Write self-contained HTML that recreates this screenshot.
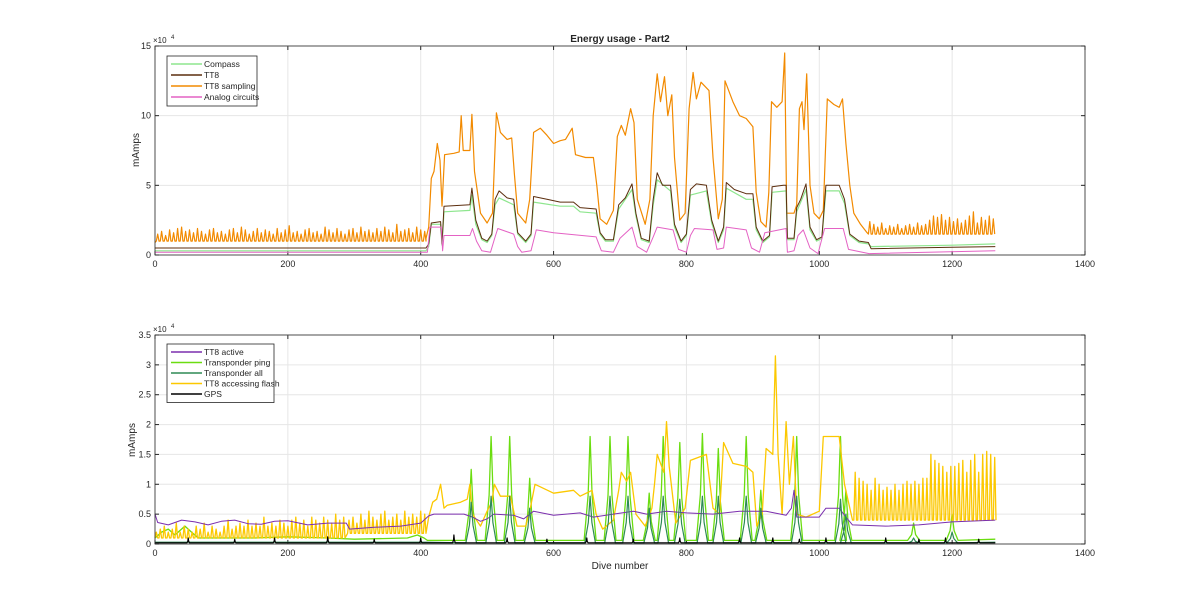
<!DOCTYPE html>
<html><head><meta charset="utf-8"><style>
body{margin:0;background:#fff;font-family:"Liberation Sans",sans-serif}
svg text{font-family:"Liberation Sans",sans-serif;fill:#262626}
</style></head><body>
<svg id="c" width="1200" height="611" viewBox="0 0 1200 611">
<text x="620" y="42" font-size="10" font-weight="bold" text-anchor="middle">Energy usage - Part2</text>
<text x="0" y="0" font-size="10" text-anchor="middle" transform="translate(139,150) rotate(-90)">mAmps</text>
<text x="0" y="0" font-size="10" text-anchor="middle" transform="translate(135,440) rotate(-90)">mAmps</text>
<text x="620" y="569" font-size="10" text-anchor="middle">Dive number</text>
<g id="topAxes"></g>
<g id="botAxes"></g>
</svg>
<script>
const xTicks=[0,200,400,600,800,1000,1200,1400];
const topYTicks=[0,5,10,15];
const botYTicks=[0,0.5,1,1.5,2,2.5,3,3.5];
const topSeriesNames=["Compass","TT8","TT8 sampling","Analog circuits"];
const botSeriesNames=["TT8 active","Transponder ping","Transponder all","TT8 accessing flash","GPS"];
const samplingEarlyBase=1.0;
const samplingEarlySpikes=[1.5,1.7,1.4,1.8,1.6,1.9,2.0,1.7,1.8,1.6,1.9,1.7,1.5,1.8,1.9,1.6,1.7,1.5,1.8,1.9,1.6,2.0,1.8,1.5,1.7,1.9,1.6,1.8,1.7,1.5,1.9,1.6,1.8,2.1,1.6,1.7,1.5,1.8,1.9,1.6,1.7,1.5,2.0,1.8,1.6,1.9,1.7,1.5,1.8,1.9,1.6,2.0,1.7,1.8,1.6,1.9,1.7,2.0,1.8,1.6,2.2,1.7,1.8,1.9,1.6,2.0,1.8,1.7];
const samplingMid=[[408,1.2],[412,2.0],[416,5.5],[420,6.0],[425,8.0],[429,6.8],[432,3.5],[436,7.2],[450,7.3],[458,7.4],[461,10.0],[464,7.5],[474,7.5],[477,10.1],[481,6.0],[490,3.0],[500,2.3],[508,3.0],[514,10.2],[520,8.8],[530,8.3],[537,8.4],[541,5.8],[546,3.0],[558,2.3],[564,4.0],[570,8.8],[580,9.1],[590,8.6],[600,8.0],[610,8.2],[618,8.3],[628,9.1],[633,7.2],[648,7.0],[660,7.0],[665,5.0],[670,2.6],[680,2.2],[690,3.2],[696,8.5],[702,9.3],[708,8.6],[716,10.5],[721,9.5],[726,4.0],[738,2.2],[745,4.0],[750,10.0],[756,13.0],[761,11.0],[767,12.8],[772,10.0],[778,11.5],[782,7.0],[790,2.5],[798,3.0],[804,10.5],[810,13.1],[815,11.2],[822,12.4],[834,11.8],[840,7.0],[848,2.6],[854,4.0],[858,12.5],[870,11.0],[880,10.0],[890,9.8],[900,9.2],[905,4.5],[912,2.4],[920,2.0],[924,4.5],[928,11.0],[936,10.6],[944,11.0],[948,14.5],[951,3.0],[962,3.0],[966,3.6],[970,10.5],[974,11.0],[977,9.0],[981,13.0],[986,5.0],[992,3.0],[1000,2.6],[1006,3.2],[1012,11.2],[1022,10.8],[1030,10.6],[1035,11.2],[1040,8.0],[1046,5.0],[1052,3.0],[1062,2.2],[1072,1.6]];
const samplingLateBase=1.5;
const samplingLateSpikes=[2.4,2.2,2.0,2.3,1.9,2.1,2.0,2.2,1.9,2.1,2.2,2.0,2.3,2.1,2.2,2.5,2.8,2.7,2.9,2.5,2.7,2.4,2.6,2.3,2.5,2.8,3.1,2.3,2.7,2.5,2.8,2.6];
const tt8Data=[[0,0.5],[408,0.5],[412,0.8],[416,2.3],[430,2.4],[432,0.8],[435,3.5],[474,3.6],[477,4.8],[483,2.5],[492,1.2],[500,1.0],[507,1.5],[512,4.0],[518,4.6],[530,4.1],[540,4.0],[546,1.6],[558,1.0],[566,1.5],[570,4.2],[590,4.0],[610,3.8],[630,3.8],[640,3.4],[664,3.3],[670,1.6],[678,1.1],[690,1.1],[698,3.6],[708,4.1],[718,5.1],[724,3.0],[732,1.2],[744,1.0],[750,4.0],[756,5.9],[764,5.0],[776,5.0],[782,2.2],[792,1.0],[800,1.5],[806,4.7],[815,5.1],[830,5.0],[838,2.5],[848,1.0],[856,2.0],[860,5.2],[872,4.7],[890,4.4],[900,4.4],[905,2.0],[915,1.0],[925,1.4],[929,4.9],[946,5.0],[950,5.0],[952,1.2],[962,1.2],[966,3.4],[972,4.0],[980,5.1],[986,2.0],[996,1.1],[1004,1.3],[1010,5.0],[1030,5.0],[1038,4.0],[1046,1.5],[1060,1.0],[1074,0.9],[1078,0.45],[1200,0.55],[1265,0.6]];
const compassData=[[0,0.3],[408,0.3],[412,0.6],[416,2.2],[430,2.2],[432,0.7],[435,3.1],[474,3.2],[477,4.3],[483,2.2],[492,1.1],[500,0.9],[507,1.4],[512,3.6],[518,4.1],[540,3.6],[546,1.5],[558,0.9],[566,1.4],[570,3.8],[610,3.5],[630,3.5],[640,3.1],[664,3.0],[670,1.5],[678,1.0],[690,1.0],[698,3.3],[718,4.7],[724,2.8],[732,1.1],[744,0.9],[750,3.6],[756,5.4],[776,4.6],[782,2.0],[792,0.9],[800,1.4],[806,4.3],[830,4.6],[838,2.3],[848,0.9],[856,1.8],[860,4.8],[890,4.0],[900,4.0],[905,1.8],[915,0.9],[925,1.3],[929,4.5],[950,4.6],[952,1.1],[962,1.1],[966,3.1],[980,4.7],[986,1.8],[996,1.0],[1004,1.2],[1010,4.6],[1030,4.6],[1038,3.7],[1046,1.4],[1060,0.9],[1074,0.8],[1078,0.6],[1200,0.7],[1265,0.8]];
const analogData=[[0,0.2],[410,0.2],[414,2.0],[431,2.0],[433,0.3],[435,1.4],[474,1.4],[478,1.9],[484,1.0],[492,0.3],[505,0.2],[512,1.3],[516,1.9],[540,1.5],[546,0.6],[552,0.2],[566,0.3],[574,1.8],[600,1.6],[664,1.3],[672,0.3],[690,0.2],[700,1.2],[718,2.0],[726,0.6],[740,0.2],[750,1.3],[756,2.0],[780,1.8],[788,0.4],[800,0.2],[806,1.4],[812,1.9],[840,1.8],[846,0.4],[856,0.5],[860,2.0],[890,1.8],[898,0.5],[910,0.2],[918,1.6],[950,1.9],[952,0.2],[962,0.3],[968,1.4],[976,1.8],[986,0.5],[998,0.1],[1008,1.9],[1036,1.9],[1044,0.4],[1075,0.1],[1265,0.3]];
const activeData=[[0,0.5],[4,0.36],[20,0.32],[40,0.4],[60,0.37],[80,0.32],[100,0.38],[120,0.4],[140,0.34],[160,0.33],[180,0.38],[200,0.39],[230,0.32],[260,0.35],[288,0.35],[293,0.25],[330,0.28],[370,0.3],[400,0.35],[412,0.47],[420,0.5],[440,0.5],[465,0.5],[478,0.45],[490,0.38],[500,0.42],[510,0.5],[540,0.48],[555,0.42],[570,0.55],[600,0.48],[640,0.52],[660,0.45],[690,0.5],[720,0.55],[740,0.5],[770,0.55],[800,0.52],[840,0.5],[880,0.55],[920,0.55],[950,0.48],[958,0.6],[962,0.9],[966,0.45],[1000,0.45],[1010,0.6],[1030,0.6],[1040,0.45],[1050,0.32],[1100,0.3],[1150,0.32],[1200,0.37],[1265,0.4]];
const flashEarlyBase=0.1;
const flashEarlySpikes=[0.2,0.25,0.3,0.2,0.25,0.35,0.2,0.3,0.25,0.2,0.3,0.25,0.35,0.2,0.3,0.25,0.2,0.3,0.4,0.25,0.3,0.35,0.3,0.4,0.3,0.35,0.3,0.45,0.3,0.35,0.3,0.4,0.35,0.3,0.4,0.45,0.35,0.4,0.3,0.45,0.4,0.35,0.45,0.4,0.35,0.5,0.4,0.45];
const flashMidBase=0.18;
const flashMidSpikes=[0.4,0.45,0.35,0.5,0.4,0.55,0.45,0.4,0.5,0.55,0.4,0.45,0.5,0.4,0.55,0.45,0.5,0.45,0.55,0.5];
const flashMid=[[412,0.45],[418,0.7],[424,0.75],[430,1.0],[435,0.6],[440,0.65],[460,0.7],[470,0.75],[474,1.0],[478,0.5],[490,0.3],[500,0.55],[507,0.7],[511,1.0],[520,0.8],[535,0.8],[545,0.3],[558,0.3],[565,0.6],[572,1.0],[600,0.85],[630,0.9],[640,0.8],[658,0.9],[664,0.5],[674,0.25],[690,0.4],[698,0.9],[702,1.2],[710,1.05],[716,1.2],[724,0.5],[738,0.3],[748,0.6],[752,1.0],[756,1.5],[766,1.2],[770,2.05],[774,1.3],[784,0.35],[798,0.6],[806,1.4],[830,1.5],[840,0.6],[850,0.5],[856,1.7],[870,1.35],[890,1.3],[900,1.2],[906,0.3],[914,0.5],[920,1.6],[930,1.5],[934,3.15],[938,1.5],[944,0.5],[950,2.05],[955,1.0],[961,1.8],[966,0.5],[980,0.45],[1000,0.55],[1006,1.8],[1030,1.8],[1038,1.0],[1050,0.4]];
const flashLateBase=0.4;
const flashLateSpikes=[1.2,1.1,1.05,1.0,0.9,1.1,1.0,0.9,0.95,0.9,1.0,0.9,1.0,1.05,1.0,1.05,1.0,1.1,1.1,1.5,1.4,1.35,1.3,1.2,1.3,1.3,1.35,1.4,1.2,1.4,1.5,1.2,1.5,1.55,1.5,1.45];
const pingBase=0.06;
const pingEarly=[[0,0.1],[10,0.2],[20,0.25],[30,0.15],[45,0.3],[55,0.2],[65,0.1],[100,0.1],[150,0.1],[200,0.12],[260,0.1],[300,0.08],[380,0.1],[395,0.15],[405,0.1],[410,0.06]];
const pingSpikeDives=[476,506,534,564,655,685,712,744,765,790,824,848,890,912,966,1032,1040,1142,1200];
const pingSpikeValues=[1.25,1.8,1.8,1.1,1.8,1.8,1.8,0.85,1.8,1.7,1.85,1.6,1.8,0.9,1.8,1.8,0.9,0.35,0.5];
const allSpikeValues=[0.7,0.8,0.8,0.6,0.8,0.8,0.8,0.6,0.8,0.75,0.8,0.8,0.8,0.6,0.8,0.75,0.5,0.1,0.2];
const gpsBase=0.02;
const gpsSpikeDives=[50,120,180,260,330,400,450,530,590,650,720,790,880,930,970,1010,1100,1150,1190,1240];
const gpsSpikeValues=[0.1,0.08,0.1,0.12,0.08,0.1,0.15,0.1,0.08,0.1,0.08,0.1,0.1,0.1,0.08,0.1,0.1,0.08,0.1,0.08];

const NS="http://www.w3.org/2000/svg";
const X0=155,X1=1085;
function xs(d){return X0+(d-0)/(1400-0)*(X1-X0);}
const topAx={y0:255,y1:46,max:15};
const botAx={y0:544,y1:335,max:3.5};
function ys(ax,v){return ax.y0-(v/ax.max)*(ax.y0-ax.y1);}
function periodic(start,period,base,spikes){const k=[];spikes.forEach((s,i)=>{const d=start+i*period;k.push([d,base]);k.push([d+2,s]);k.push([d+4,base]);});return k;}
function spikesAt(dives,vals,base,w){const k=[];dives.forEach((d,i)=>{k.push([d-w,base]);k.push([d-w/3,vals[i]*0.45]);k.push([d,vals[i]]);k.push([d+w/3,vals[i]*0.45]);k.push([d+w,base]);});return k;}
function mk(tag,attrs,parent){const e=document.createElementNS(NS,tag);for(const k in attrs)e.setAttribute(k,attrs[k]);parent.appendChild(e);return e;}

function drawAxes(g,ax,ticks){
  xTicks.forEach(t=>{const l=mk('line',{x1:xs(t),x2:xs(t),y1:ax.y1,y2:ax.y0,stroke:'#e6e6e6','stroke-width':1},g);
    
    
    const tl=mk('text',{x:xs(t),y:ax.y0+12,'font-size':9,'text-anchor':'middle'},g);tl.textContent=t;
    
    
    mk('line',{x1:xs(t),x2:xs(t),y1:ax.y0,y2:ax.y0-4,stroke:'#262626'},g);
    mk('line',{x1:xs(t),x2:xs(t),y1:ax.y1,y2:ax.y1+4,stroke:'#262626'},g);});
  ticks.forEach(t=>{const l=mk('line',{x1:X0,x2:X1,y1:ys(ax,t),y2:ys(ax,t),stroke:'#e6e6e6'},g);
    
    
    const tl=mk('text',{x:X0-4,y:ys(ax,t)+3,'font-size':9,'text-anchor':'end'},g);tl.textContent=t;
    
    
    mk('line',{x1:X0,x2:X0+4,y1:ys(ax,t),y2:ys(ax,t),stroke:'#262626'},g);
    mk('line',{x1:X1,x2:X1-4,y1:ys(ax,t),y2:ys(ax,t),stroke:'#262626'},g);});
  const ex=mk('text',{x:X0-2,y:ax.y1-3,'font-size':8},g);ex.textContent='×10';
  
  
  const sup=mk('text',{x:X0+16,y:ax.y1-7,'font-size':6},g);sup.textContent='4';
  
  
}
function line(g,ax,knots,color,name,w){
  const d=knots.map((p,i)=>(i?'L':'M')+xs(p[0]).toFixed(1)+','+ys(ax,p[1]).toFixed(1)).join('');
  const p=mk('path',{d:d,fill:'none',stroke:color,'stroke-width':w||1,'stroke-linejoin':'round'},g);
  
  
}
function legend(g,x,y,w,names,colors,dy){
  const h=names.length*dy+6;
  const r=mk('rect',{x:x,y:y,width:w,height:h,fill:'#fff',stroke:'#262626','stroke-width':0.8},g);
  
  
  names.forEach((n,i)=>{const yy=y+8+i*dy;
    const l=mk('line',{x1:x+4,x2:x+35,y1:yy,y2:yy,stroke:colors[i],'stroke-width':1.6},g);
    
    
    const t=mk('text',{x:x+37,y:yy+3,'font-size':8.5},g);t.textContent=n;
    
    });
}
const topG=document.getElementById('topAxes'),botG=document.getElementById('botAxes');
drawAxes(topG,topAx,topYTicks);
drawAxes(botG,botAx,botYTicks);
const cCompass='#8ee68e',cTT8='#5c2e0e',cSamp='#f28a00',cAnalog='#e462c4';
const sampKnots=[[0,0.9]].concat(periodic(2,6,samplingEarlyBase,samplingEarlySpikes),samplingMid,periodic(1074,6,samplingLateBase,samplingLateSpikes));
line(topG,topAx,sampKnots,cSamp,'tt8-sampling-line',1.2);
line(topG,topAx,compassData,cCompass,'compass-line',1.2);
line(topG,topAx,tt8Data,cTT8,'tt8-line',1);
line(topG,topAx,analogData,cAnalog,'analog-circuits-line',1);
const cActive='#7b2fae',cPing='#6bdd10',cAll='#2e8a55',cFlash='#fcc800',cGps='#000';
const flashKnots=periodic(0,6,flashEarlyBase,flashEarlySpikes).concat(periodic(290,6,flashMidBase,flashMidSpikes),flashMid,periodic(1052,6,flashLateBase,flashLateSpikes));
line(botG,botAx,pingEarly.concat(spikesAt(pingSpikeDives,pingSpikeValues,pingBase,9),[[1265,0.08]]),cPing,'transponder-ping-line',1.3);
line(botG,botAx,flashKnots,cFlash,'tt8-accessing-flash-line',1.3);
line(botG,botAx,activeData,cActive,'tt8-active-line',1);
line(botG,botAx,[[0,0.03],[410,0.03]].concat(spikesAt(pingSpikeDives,allSpikeValues,0.02,8),[[1265,0.03]]),cAll,'transponder-all-line',1.2);
line(botG,botAx,[[0,gpsBase]].concat(spikesAt(gpsSpikeDives,gpsSpikeValues,gpsBase,2),[[1265,gpsBase]]),cGps,'gps-line',1.2);
[[topAx,topG],[botAx,botG]].forEach(([ax,g])=>{const f=mk('rect',{x:X0,y:ax.y1,width:X1-X0,height:ax.y0-ax.y1,fill:'none',stroke:'#262626','stroke-width':0.8},g);
  
  });
legend(topG,167,56,90,topSeriesNames,[cCompass,cTT8,cSamp,cAnalog],11);
legend(botG,167,344,107,botSeriesNames,[cActive,cPing,cAll,cFlash,cGps],10.5);
</script>
</body></html>
